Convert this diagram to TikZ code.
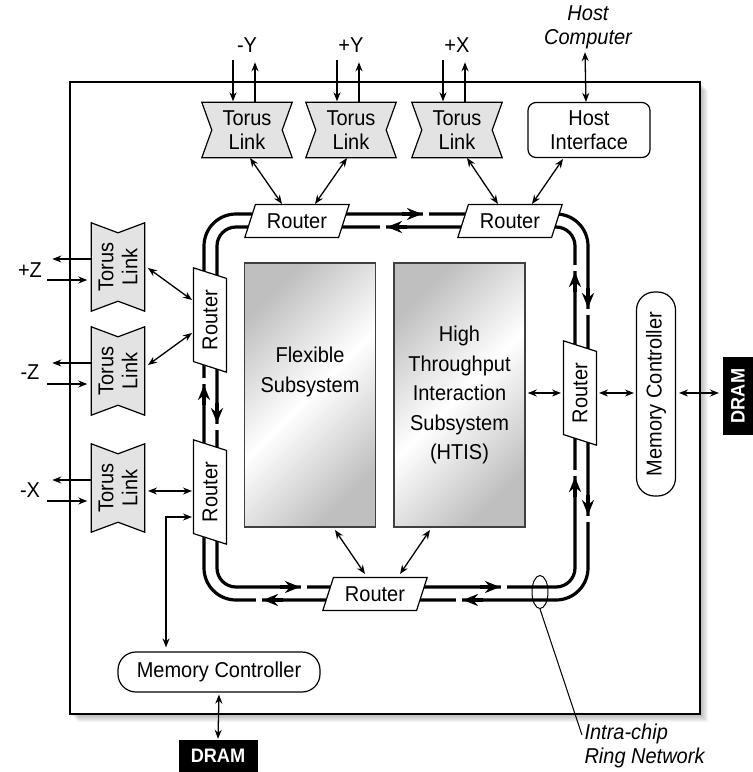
\documentclass[tikz,border=0pt]{standalone}
\usepackage{fontspec}
\setmainfont{Liberation Sans}[FakeStretch=0.93]
\usetikzlibrary{arrows.meta,shapes.geometric,backgrounds,calc,positioning}

\begin{document}
\begin{tikzpicture}[
    x=1pt, y=-1pt,
    every node/.style={font=\fontsize{21.5}{24}\selectfont},
    >={Stealth[length=9pt,width=7pt]},
    wire/.style={line width=1.3pt},
    ringline/.style={line width=3.2pt},
    tlink/.style={rectangle, minimum width=90pt, minimum height=55pt, inner sep=0pt, align=center},
    router/.style={trapezium, trapezium left angle=63, trapezium right angle=117, trapezium stretches=true, draw, fill=white, line width=1.2pt, minimum width=105pt, minimum height=33pt, inner sep=0pt},
    sub/.style={rectangle, draw=black!75, line width=1.6pt, minimum width=131pt, minimum height=264pt, top color=gray!50, bottom color=gray!50, middle color=white, shading angle=45, align=center, font=\fontsize{21.5}{29.5}\selectfont},
    memctl/.style={rectangle, rounded corners=18pt, draw, line width=1.2pt, minimum width=202pt, minimum height=40pt, inner sep=0pt},
    dram/.style={rectangle, fill=black, text=white, font=\fontsize{19.5}{22}\selectfont\bfseries, inner sep=0pt},
    note/.style={font=\fontsize{21.5}{24}\selectfont\itshape, align=center}
]
\useasboundingbox (0,0) rectangle (753,772);

% --- chip outline ---
\begin{scope}[on background layer]
    \foreach \i in {1,...,8}
        \fill[black, opacity=0.04] (70+\i,82+\i) rectangle (700+\i,714+\i);
    \draw[wire, fill=white] (70,82) rectangle (700,714);
\end{scope}

% --- ring network ---
\draw[ringline, rounded corners=32pt] (204,214) rectangle (588,600);
\draw[ringline, rounded corners=19pt] (217,227) rectangle (575,587);
\foreach \x/\y/\dx/\dy in {422/214/1/0, 387/227/-1/0, 588/308/0/1, 588/515/0/1, 575/272/0/-1, 575/477/0/-1,
                           300/587/1/0, 500/587/1/0, 263/600/-1/0, 463/600/-1/0, 204/385/0/-1, 217/423/0/1} {
    \draw[white, line width=6pt] ({\x+(\dx)},{\y+(\dy)}) -- ({\x+7*(\dx)},{\y+7*(\dy)});
    \draw[ringline, -{Stealth[length=15pt,width=12pt]}] ({\x-20*(\dx)},{\y-20*(\dy)}) -- (\x,\y);
}

% --- routers ---
\node[router] (rt1) at (297,221) {Router};
\node[router] (rt2) at (510,221) {Router};
\node[router, rotate=90] (rl1) at (210,320) {Router};
\node[router, rotate=90] (rl2) at (210,492) {Router};
\node[router, rotate=90] (rr) at (580,393) {Router};
\node[router] (rb) at (375,594) {Router};

% --- torus links ---
\node[tlink] (ty1) at (247,130) {Torus\\Link};
\node[tlink] (ty2) at (351,130) {Torus\\Link};
\node[tlink] (tx1) at (457,130) {Torus\\Link};
\node[tlink, rotate=90, minimum width=88pt, minimum height=53pt] (tz1) at (118,267) {Torus\\Link};
\node[tlink, rotate=90, minimum width=88pt, minimum height=53pt] (tz2) at (118,371) {Torus\\Link};
\node[tlink, rotate=90, minimum width=88pt, minimum height=53pt] (tx2) at (118,488) {Torus\\Link};
\node[rectangle, rounded corners=8pt, draw, line width=1.2pt, minimum width=122pt, minimum height=55pt, inner sep=0pt, align=center] (hi) at (589,130) {Host\\Interface};

% --- subsystems ---
\node[sub] (fs) at (310,395) {};
\node[align=center, font=\fontsize{21.5}{29.5}\selectfont] (fstext) at ([yshift=23pt]fs.center) {Flexible\\Subsystem};
\node[sub] (htis) at (459.5,395) {High\\Throughput\\Interaction\\Subsystem\\(HTIS)};

% --- memory ---
\node[memctl, rotate=90, minimum width=204pt, minimum height=39pt] (mcr) at (656,394) {Memory Controller};
\node[memctl] (mcb) at (219,672) {Memory Controller};
\node[dram, rotate=90, minimum width=78pt, minimum height=30pt] (dramr) at (738,396) {DRAM};
\node[dram, minimum width=79pt, minimum height=32pt] (dramb) at (218,756) {DRAM};

% --- labels ---
\node (lmy) at (247,45) {-Y};
\node (lpy) at (351,45) {+Y};
\node (lpx) at (457,45) {+X};
\node (lpz) at (30,270) {+Z};
\node (lmz) at (30,372) {-Z};
\node (lmx) at (30,490) {-X};
\node[note] (host) at (588,27) {Host\\Computer};
\node[ellipse, draw, line width=1pt, minimum width=16pt, minimum height=33pt, inner sep=0pt] (ell) at (540,592) {};
\node[note, align=left, anchor=north west] (ringlbl) at (581,720) {Intra-chip\\Ring Network};

% torus link outlines
\begin{scope}[on background layer]
    \foreach \t in {ty1,ty2,tx1,tz1,tz2,tx2}
        \draw[line width=1.2pt, fill=gray!22] (\t.north west) -- (\t.north east) -- ($(\t.east)!10pt!(\t.west)$)
            -- (\t.south east) -- (\t.south west) -- ($(\t.west)!10pt!(\t.east)$) -- cycle;
\end{scope}

% Arrows
\foreach \t in {ty1,ty2,tx1} {
    \draw[wire, ->] ([shift={(-14,-42)}]\t.north) -- ([shift={(-14,-1)}]\t.north);
    \draw[wire, ->] ([shift={(8,0)}]\t.north) -- ([shift={(8,-40)}]\t.north);
}
\foreach \t in {tz1,tz2,tx2} {
    \draw[wire, ->] ([shift={(0,-8)}]\t.north) -- ([shift={(-39,-8)}]\t.north);
    \draw[wire, ->] ([shift={(-44,13)}]\t.north) -- ([shift={(-4,13)}]\t.north);
}
\draw[wire, <->] ([xshift=-3pt]hi.north) -- ([xshift=-3pt]host.south);

\draw[wire, <->] ([shift={(3,28)}]ty1.center) -- ([shift={(-15,-17)}]rt1.center);
\draw[wire, <->] ([shift={(-4,28)}]ty2.center) -- ([shift={(18,-17)}]rt1.center);
\draw[wire, <->] ([shift={(10,28)}]tx1.center) -- ([shift={(-12,-17)}]rt2.center);
\draw[wire, <->] ([shift={(-26,29)}]hi.center) -- ([shift={(22,-17)}]rt2.center);

\draw[wire, <->] ([shift={(30,1)}]tz1.center) -- ([shift={(-18,-20)}]rl1.center);
\draw[wire, <->] ([shift={(30,-6)}]tz2.center) -- ([shift={(-18,13)}]rl1.center);
\draw[wire, <->] ([shift={(30,3)}]tx2.center) -- ([shift={(-18,-1)}]rl2.center);
\draw[wire, <->] ([shift={(-18,25)}]rl2.center) -| ([shift={(-53,-4)}]mcb.north);

\draw[wire, <->] ([shift={(2,-2)}]htis.east) -- ([shift={(-19,0)}]rr.center);
\draw[wire, <->] ([shift={(19,0)}]rr.center) -- ([shift={(-22,-1)}]mcr.center);
\draw[wire, <->] ([shift={(23,-1)}]mcr.center) -- ([shift={(-19,-3)}]dramr.center);

\draw[wire, <->] ([shift={(25,135)}]fs.center) -- ([shift={(-10,-20)}]rb.center);
\draw[wire, <->] ([shift={(-29.5,135)}]htis.center) -- ([shift={(25,-20)}]rb.center);
\draw[wire, <->] ([yshift=-2pt]mcb.south) -- ([yshift=1pt]dramb.north);

\draw[line width=1pt] (ell.south) -- ([shift={(1,15)}]ringlbl.north west);

\end{tikzpicture}
\end{document}
